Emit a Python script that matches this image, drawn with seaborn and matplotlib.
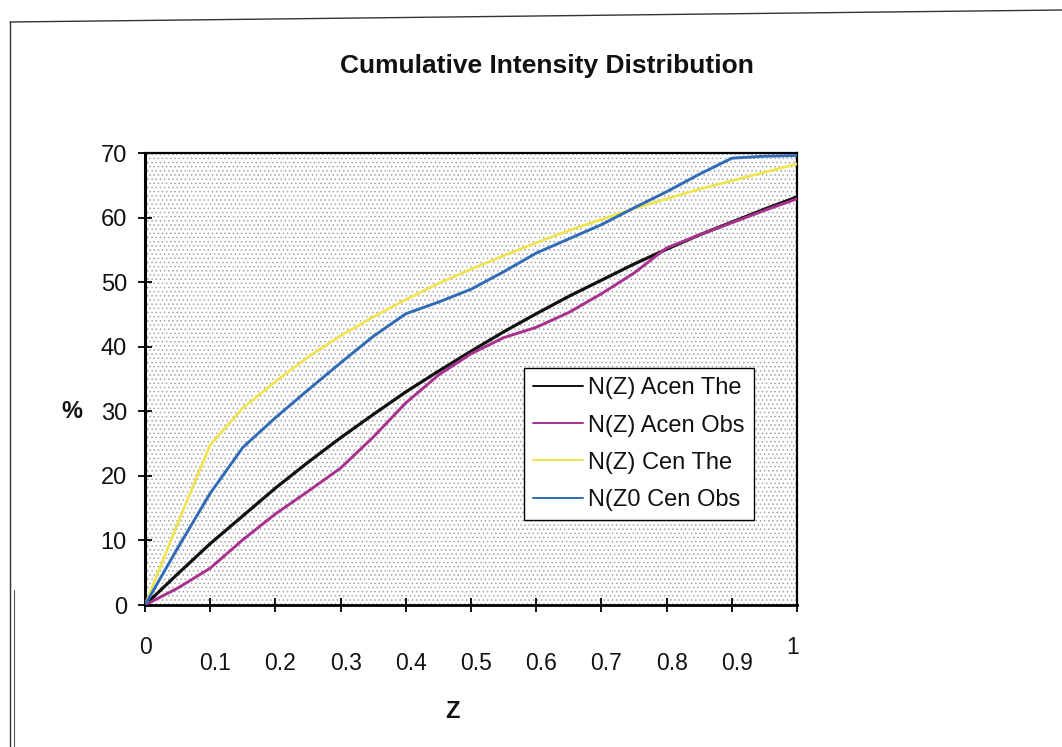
import matplotlib
matplotlib.use("Agg")
import matplotlib.pyplot as plt
import matplotlib.transforms as mtransforms
from matplotlib.patches import Rectangle
from matplotlib.lines import Line2D
import pandas as pd
import seaborn as sns

# All curves tabulated every 0.05 in Z
z_values = [0.0, 0.05, 0.1, 0.15, 0.2, 0.25, 0.3, 0.35, 0.4, 0.45, 0.5,
            0.55, 0.6, 0.65, 0.7, 0.75, 0.8, 0.85, 0.9, 0.95, 1.0]
acen_the = [0.0, 4.8, 9.5, 13.8, 18.1, 22.1, 25.9, 29.5, 33.0, 36.2, 39.3,
            42.3, 45.1, 47.8, 50.3, 52.8, 55.1, 57.3, 59.3, 61.3, 63.2]
acen_obs = [0.0, 2.6, 5.7, 10.1, 14.1, 17.6, 21.2, 26.0, 31.3, 35.6, 38.9,
            41.4, 43.0, 45.3, 48.2, 51.4, 55.3, 57.3, 59.2, 61.1, 62.9]
cen_the = [0.0, 12.6, 24.8, 30.5, 34.6, 38.4, 41.7, 44.6, 47.3, 49.8, 52.0,
           54.1, 56.1, 58.0, 59.7, 61.4, 62.9, 64.4, 65.7, 67.0, 68.3]
cen_obs = [0.0, 8.8, 17.3, 24.4, 29.0, 33.3, 37.5, 41.6, 45.1, 46.9, 48.9,
           51.6, 54.5, 56.7, 58.9, 61.5, 64.0, 66.7, 69.2, 69.5, 69.6]

series_labels = ["N(Z) Acen The", "N(Z) Acen Obs", "N(Z) Cen The", "N(Z0 Cen Obs"]
series_colors = ["#111111", "#a8318f", "#f0e44c", "#2f6bb6"]
x_ticks = [0.0, 0.1, 0.2, 0.3, 0.4, 0.5, 0.6, 0.7, 0.8, 0.9, 1.0]
x_tick_labels = ["0", "0.1", "0.2", "0.3", "0.4", "0.5", "0.6", "0.7", "0.8", "0.9", "1"]
y_ticks = [0, 10, 20, 30, 40, 50, 60, 70]

data = pd.concat([
    pd.DataFrame({"Z": z_values, "pct": vals, "series": lab})
    for vals, lab in zip([acen_the, acen_obs, cen_the, cen_obs], series_labels)
], ignore_index=True)
widths = [2.3, 2.1, 1.9, 2.1]

sns.set_theme(style="white")
plt.rcParams["font.family"] = ["Liberation Sans", "DejaVu Sans"]
plt.rcParams["hatch.linewidth"] = 0.6

W, H = 1062, 747
fig = plt.figure(figsize=(W / 100, H / 100), dpi=100)
fig.patch.set_facecolor("white")
ax = fig.add_axes([145 / W, 1 - 605 / H, 652 / W, 452 / H])
ax.set_facecolor("white")

# dotted plot-area fill
ax.add_patch(Rectangle((0, 0), 1, 1, transform=ax.transAxes, facecolor="white",
                       edgecolor="#a4a4a4", hatch="....", linewidth=0, zorder=0))

for lab, col, lw in zip(series_labels, series_colors, widths):
    sns.lineplot(data=data[data["series"] == lab], x="Z", y="pct", ax=ax,
                 color=col, linewidth=lw, label=lab, estimator=None,
                 sort=False, zorder=3)

ax.set_xlim(0, 1)
ax.set_ylim(0, 70)
ax.set_xlabel("")
ax.set_ylabel("")

for side, lw in zip(["left", "bottom", "top", "right"], [2.2, 2.0, 1.6, 1.6]):
    ax.spines[side].set_visible(True)
    ax.spines[side].set_color("black")
    ax.spines[side].set_linewidth(lw)

ax.set_yticks(y_ticks)
ax.set_xticks(x_ticks)
ax.set_xticklabels([])
ax.tick_params(axis="both", direction="inout", length=10, width=1.3,
               color="black", left=True, bottom=True)
ax.tick_params(axis="y", labelsize=17, pad=8.0, labelcolor="#111111")

# staggered x tick labels
base = ax.get_xaxis_transform()
for xv, txt in zip(x_ticks, x_tick_labels):
    if txt in ("0", "1"):
        dx, dy = (0 if txt == "0" else -4), -43
    else:
        dx, dy = 5, -59
    tr = mtransforms.offset_copy(base, fig=fig, x=dx, y=dy, units="dots")
    ax.text(xv, 0, txt, transform=tr, ha="center", va="center",
            fontsize=16.5, color="#111111")

leg = ax.legend(loc="upper left", bbox_to_anchor=(524 / W, 1 - 368 / H),
                bbox_transform=fig.transFigure, fontsize=17, frameon=True,
                fancybox=False, edgecolor="black", framealpha=1,
                borderpad=0.4, handlelength=2.1, handletextpad=0.2,
                labelspacing=0.64, borderaxespad=0)
leg.get_frame().set_linewidth(1.0)
for ln in leg.get_lines():
    ln.set_linewidth(1.4)
for t in leg.get_texts():
    t.set_color("#111111")

fig.text(547 / W, 1 - 66 / H, "Cumulative Intensity Distribution",
         ha="center", va="center", fontsize=19, fontweight="bold", color="#111111")
fig.text(72 / W, 1 - 412 / H, "%", ha="center", va="center",
         fontsize=17, fontweight="bold", color="#111111")
fig.text(452 / W, 1 - 712 / H, "Z", ha="center", va="center",
         fontsize=17, fontweight="bold", color="#111111")

# outer chart border
fig.add_artist(Line2D([10 / W, 1.0], [1 - 22 / H, 1 - 10 / H],
                      transform=fig.transFigure, color="#333333", linewidth=1.0))
fig.add_artist(Line2D([10 / W, 10 / W], [1 - 22 / H, 0.0],
                      transform=fig.transFigure, color="#333333", linewidth=1.0))
fig.add_artist(Line2D([14 / W, 14 / W], [1 - 590 / H, 0.0],
                      transform=fig.transFigure, color="#555555", linewidth=0.8))

fig.savefig("out.png", dpi=100, facecolor="white")
